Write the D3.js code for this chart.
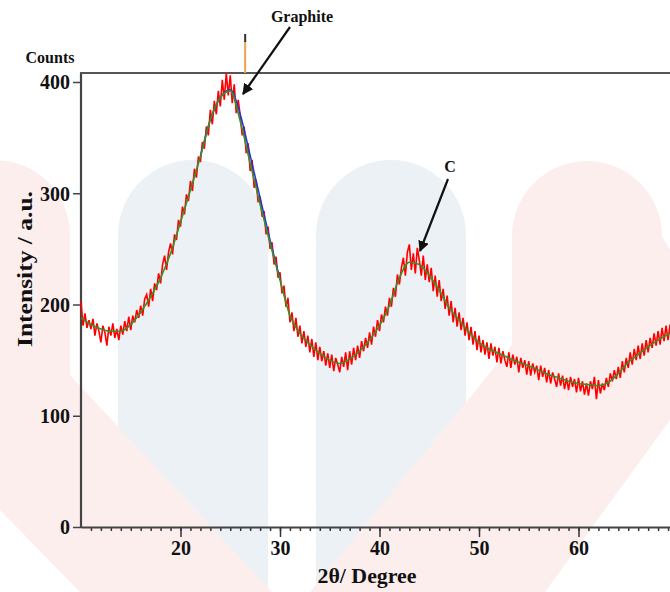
<!DOCTYPE html>
<html><head><meta charset="utf-8">
<script src="https://cdn.jsdelivr.net/npm/d3@7"></script>
<style>body{margin:0;background:#fff}svg{display:block}text{font-family:"Liberation Serif","Times New Roman",serif;font-weight:bold;fill:#111}</style>
</head><body>
<svg id="c" width="670" height="592"></svg>
<script>
// ---- data ----
const xTicks = [20, 30, 40, 50, 60];
const yTicks = [0, 100, 200, 300, 400];
const fitAngles = [10,11,12,13,14,15,16,17,18,19,20,21,22,23,24,25,26,27,28,29,30,31,32,33,34,35,36,37,38,39,40,41,42,43,44,45,46,47,48,49,50,51,52,53,54,55,56,57,58,59,60,61,62,63,64,65,66,67,68,69,70];
const fitCounts = [188,182,178,176,176,182,193,207,224,246,274,303,333,366,386,392,365,327,290,255,222,190,174,164,156,150,147,151,158,168,181,199,224,238,236,226,213,197,186,175,166,160,156,152,148,145,141,137,134,131,129,128,127,130,138,148,155,162,168,173,177];
const peakFitAngles = [22,23,24,25,26,27,28,29,30];
const peakFitCounts = [333,366,386,393,371,334,296,258,223];
const rawStart = 10, rawStep = 0.2;
const rawCounts = [
203,181,192,179,186, 178,187,172,183,176, 166,181,175,163,180, 172,183,170,178,168,
181,173,185,176,189, 177,190,184,195,188, 199,190,205,209,198, 214,203,219,213,228,
219,236,244,231,247, 255,245,263,258,276, 270,288,281,299,293, 311,302,322,314,333,
328,346,340,360,352, 375,362,383,371,392, 378,402,384,408,388, 406,381,398,372,384,
370,352,360,336,345, 320,330,305,312,292, 297,279,284,263,270, 250,256,236,243,224,
229,210,217,198,206, 184,193,176,188,171, 181,165,176,162,172, 157,169,153,166,150,
162,149,158,145,156, 143,155,140,152,146, 139,153,144,157,141, 158,146,161,150,163,
152,167,158,170,161, 175,164,180,171,186, 176,191,184,198,190, 206,198,215,207,227,
218,233,242,226,247, 254,231,246,228,251, 240,226,244,222,236, 220,233,212,226,207,
222,203,214,196,208, 190,203,184,197,180, 193,177,188,172,184, 168,180,164,176,159,
172,157,168,155,166, 151,165,154,162,148, 161,147,158,150,144, 157,143,155,146,153,
139,152,143,150,137, 149,136,147,139,145, 132,145,135,143,130, 141,129,139,133,126,
138,127,136,124,134, 123,135,126,133,121, 134,122,131,119,129, 118,131,124,135,115,
132,120,129,123,134, 126,138,131,141,133, 144,134,149,139,152, 143,157,146,160,150,
163,151,165,154,168, 157,170,161,174,163, 176,164,179,167,181, 168,182,171,186,174];
const refLines = [26.5];
const annotations = [
  {label: "Graphite", tx: 302, ty: 22, x1: 290, y1: 27, x2: 243, y2: 94},
  {label: "C", tx: 450, ty: 172, x1: 448, y1: 179, x2: 420, y2: 251}
];

// ---- drawing ----
const svg = d3.select("#c");
const x = d3.scaleLinear().domain([10, 70]).range([81, 678]);
const y = d3.scaleLinear().domain([0, 400]).range([527, 82]);

// watermark
const wm = svg.append("g");
wm.append("path").attr("fill", "#ecf1f6")
  .attr("d", "M118,592 V235 A75,75 0 0 1 268,235 V592 Z");
wm.append("path").attr("fill", "#ecf1f6")
  .attr("d", "M316,592 V235 A75,75 0 0 1 466,235 V592 Z");
wm.append("path").attr("fill", "#fdeeee")
  .attr("d", "M512,236 A75,75 0 0 1 662,236 L670,250 L670,420 L545,592 L310,592 L468,400 L512,345 Z");
wm.append("path").attr("fill", "#fdeeee")
  .attr("d", "M-80,592 V235 A75,75 0 0 1 70,235 L70,375 L272,592 L80,592 L0,510 L0,592 Z");

// axes
const gx = svg.append("g").attr("transform", "translate(0,527)");
gx.call(d3.axisBottom(x).tickValues(d3.range(11, 70, 1)).tickSize(4).tickFormat("").tickSizeOuter(0));
gx.call(g => g.select(".domain").remove());
const gx2 = svg.append("g").attr("transform", "translate(0,527)");
gx2.call(d3.axisBottom(x).tickValues(xTicks).tickSize(10).tickPadding(4).tickSizeOuter(0));
gx2.selectAll("text").attr("font-size", 20).attr("font-family", "Liberation Serif").attr("font-weight", "bold").attr("fill", "#111");
svg.selectAll(".tick line").attr("stroke", "#333").attr("stroke-width", 1.5);
gx2.select(".domain").attr("stroke", "#444").attr("stroke-width", 2.2);

const gy = svg.append("g").attr("transform", "translate(81,0)");
gy.call(d3.axisLeft(y).tickValues(yTicks).tickSize(8).tickPadding(3).tickSizeOuter(0));
gy.selectAll("text").attr("font-size", 20).attr("font-family", "Liberation Serif").attr("font-weight", "bold").attr("fill", "#111").attr("dy", "0.34em");
gy.selectAll(".tick line").attr("stroke", "#444").attr("stroke-width", 1.5);
gy.select(".domain").remove();
svg.append("line").attr("x1", 81).attr("x2", 81).attr("y1", 73).attr("y2", 528).attr("stroke", "#444").attr("stroke-width", 2.2);
svg.append("line").attr("x1", 80).attr("x2", 670).attr("y1", 73).attr("y2", 73).attr("stroke", "#555").attr("stroke-width", 2.2);

// reference line
refLines.forEach(d => {
  svg.append("line").attr("x1", x(d)).attr("x2", x(d)).attr("y1", 40).attr("y2", 73).attr("stroke", "#f0a050").attr("stroke-width", 2);
  svg.append("line").attr("x1", x(d)).attr("x2", x(d)).attr("y1", 34).attr("y2", 42).attr("stroke", "#333").attr("stroke-width", 2);
});

// data
const rawData = rawCounts.map((v, i) => [rawStart + i * rawStep, v]);
const line = d3.line().x(d => x(d[0])).y(d => y(d[1]));
svg.append("path").datum(rawData).attr("fill", "none").attr("stroke", "#ff0000").attr("stroke-width", 1.6).attr("d", line);
svg.append("path").datum(peakFitAngles.map((a, i) => [a, peakFitCounts[i]]))
  .attr("fill", "none").attr("stroke", "#2233dd").attr("stroke-width", 1.5)
  .attr("d", line.curve(d3.curveMonotoneX));
svg.append("path").datum(fitAngles.map((a, i) => [a, fitCounts[i]]))
  .attr("fill", "none").attr("stroke", "#3a8f2a").attr("stroke-width", 1.6)
  .attr("d", line.curve(d3.curveMonotoneX));

// annotations
svg.append("defs").append("marker").attr("id", "ah").attr("viewBox", "0 0 10 10").attr("refX", 9).attr("refY", 5)
  .attr("markerWidth", 5).attr("markerHeight", 5).attr("markerUnits", "strokeWidth").attr("orient", "auto")
  .append("path").attr("d", "M0,0 L10,5 L0,10 Z").attr("fill", "#111");
annotations.forEach(a => {
  svg.append("line").attr("x1", a.x1).attr("y1", a.y1).attr("x2", a.x2).attr("y2", a.y2)
    .attr("stroke", "#111").attr("stroke-width", 2.2).attr("marker-end", "url(#ah)");
  svg.append("text").attr("x", a.tx).attr("y", a.ty).attr("text-anchor", "middle").attr("font-size", 16).text(a.label);
});

// titles
svg.append("text").attr("x", 50).attr("y", 63).attr("text-anchor", "middle").attr("font-size", 16).text("Counts");
svg.append("text").attr("transform", "translate(32,269) rotate(-90)").attr("text-anchor", "middle").attr("font-size", 22)
  .attr("textLength", 156).attr("lengthAdjust", "spacingAndGlyphs").text("Intensity / a.u.");
svg.append("text").attr("x", 367).attr("y", 583).attr("text-anchor", "middle").attr("font-size", 21)
  .attr("textLength", 99).attr("lengthAdjust", "spacingAndGlyphs").text("2θ/ Degree");
</script>
</body></html>
